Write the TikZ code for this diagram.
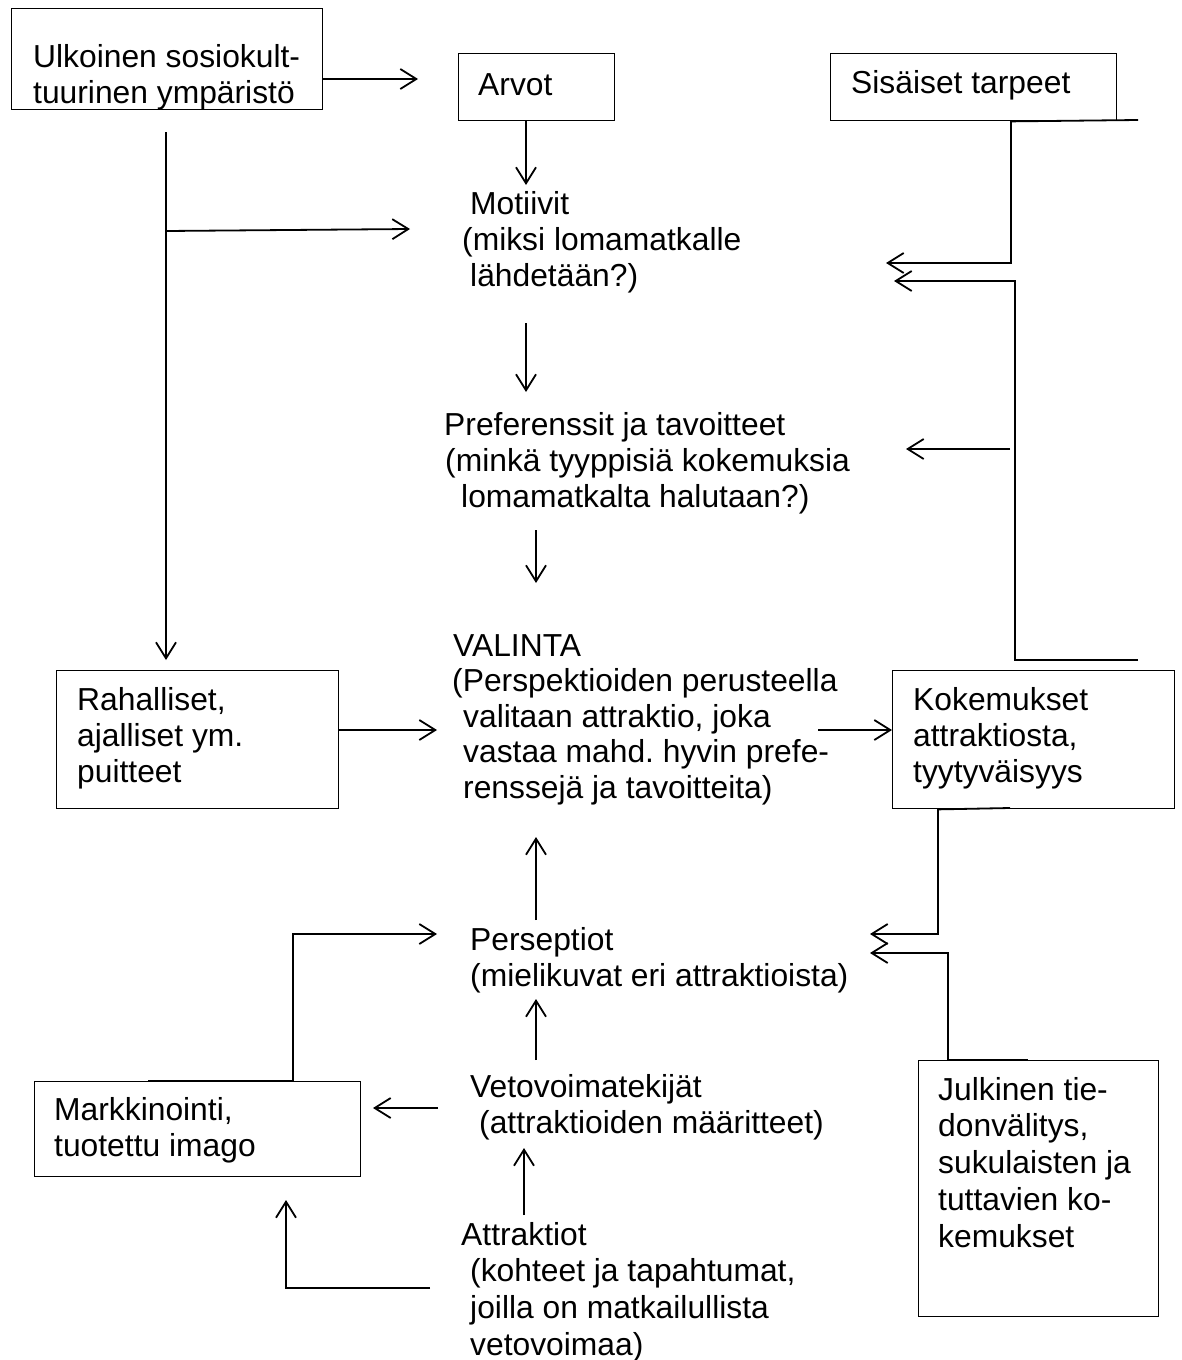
\documentclass[tikz,border=0pt]{standalone}
\usepackage{fontspec}
\setmainfont{Liberation Sans}
\usetikzlibrary{arrows.meta}
\frenchspacing
\newcommand\txtfont{\fontsize{31.8}{36.3}\selectfont}
\newcommand\valfont{\fontsize{31.8}{35.5}\selectfont}
\newcommand\julfont{\fontsize{31.8}{36.8}\selectfont}
\begin{document}
\begin{tikzpicture}[x=1pt,y=-1pt,
  box/.style={draw, line width=1.4pt, inner sep=0pt, anchor=north west},
  tx/.style={anchor=north west, inner sep=0pt, align=left, font=\txtfont},
  arr/.style={line width=1.8pt, line join=miter, -{Straight Barb[length=16pt,width=20pt]}},
  ln/.style={line width=1.8pt}]
\useasboundingbox (0,0) rectangle (1181,1360);
\fill[white] (0,0) rectangle (1181,1360);

% boxes
\node[box, minimum width=311pt, minimum height=101pt] (ulk) at (11,8) {};
\node[box, minimum width=156pt, minimum height=67pt] (arv) at (458,53) {};
\node[box, minimum width=286pt, minimum height=67pt] (sis) at (830,53) {};
\node[box, minimum width=282pt, minimum height=138pt] (rah) at (56,670) {};
\node[box, minimum width=282pt, minimum height=138pt] (kok) at (892,670) {};
\node[box, minimum width=326pt, minimum height=95pt] (mar) at (34,1081) {};
\node[box, minimum width=240pt, minimum height=256pt] (jul) at (918,1060) {};

% texts
\node[tx] (ulkT) at (33,41.6) {\strut Ulkoinen sosiokult-\\tuurinen ympäristö};
\node[tx] (arvT) at (478,69.6) {\strut Arvot};
\node[tx] (sisT) at (851,67.6) {\strut Sisäiset tarpeet};
\node[tx] (motT) at (462,188.6) {\strut\hspace*{8pt}Motiivit\\(miksi lomamatkalle\\\hspace*{8pt}lähdetään?)};
\node[tx] (prefT) at (444,409.6) {\strut Preferenssit ja tavoitteet\\\hspace*{1pt}(minkä tyyppisiä kokemuksia\\\hspace*{17pt}lomamatkalta halutaan?)};
\node[tx, font=\valfont] (valT) at (452,631.1) {\strut\hspace*{1pt}VALINTA\\(Perspektioiden perusteella\\\hspace*{11pt}valitaan attraktio, joka\\\hspace*{11pt}vastaa mahd. hyvin prefe-\\\hspace*{11pt}renssejä ja tavoitteita)};
\node[tx] (rahT) at (77,684.6) {\strut Rahalliset,\\ajalliset ym.\\puitteet};
\node[tx] (kokT) at (913,684.6) {\strut Kokemukset\\attraktiosta,\\tyytyväisyys};
\node[tx] (perT) at (470,924.6) {\strut Perseptiot\\(mielikuvat eri attraktioista)};
\node[tx] (vetT) at (470,1071.6) {\strut Vetovoimatekijät\\\hspace*{9pt}(attraktioiden määritteet)};
\node[tx] (marT) at (54,1094.6) {\strut Markkinointi,\\tuotettu imago};
\node[tx, font=\julfont] (julT) at (938,1074.2) {\strut Julkinen tie-\\donvälitys,\\sukulaisten ja\\tuttavien ko-\\kemukset};
\node[tx, font=\julfont] (attT) at (461,1219.2) {\strut Attraktiot\\\hspace*{9pt}(kohteet ja tapahtumat,\\\hspace*{9pt}joilla on matkailullista\\\hspace*{9pt}vetovoimaa)};

% coordinates
\coordinate (tArv) at (418,79);
\coordinate (cU1) at (166,132);
\coordinate (tRah) at (166,660);
\coordinate (cU2) at (166,231);
\coordinate (tMot) at (410,229);
\coordinate (tMot2) at (526,185);
\coordinate (cM) at (526,323);
\coordinate (tPref) at (526,392);
\coordinate (cP) at (536,530);
\coordinate (tVal) at (536,583);
\coordinate (tVal1) at (437,730);
\coordinate (cV) at (818,730);
\coordinate (cS1) at (1138,120);
\coordinate (cS2) at (1011,263);
\coordinate (tS) at (886,263);
\coordinate (cB1) at (1138,660);
\coordinate (cB2) at (1015,660);
\coordinate (cB3) at (1015,281);
\coordinate (tB) at (894,281);
\coordinate (cR) at (1010,449);
\coordinate (tR) at (906,449);
\coordinate (cK1) at (1010,808);
\coordinate (cK2) at (938,934);
\coordinate (tK) at (870,934);
\coordinate (cJ1) at (1028,1060);
\coordinate (cJ2) at (948,953);
\coordinate (tJ) at (870,953);
\coordinate (cPe) at (536,920);
\coordinate (tPe) at (536,837);
\coordinate (cVe) at (536,1060);
\coordinate (tVe) at (536,999);
\coordinate (cMa1) at (148,1081);
\coordinate (cMa2) at (293,934);
\coordinate (tMa) at (437,934);
\coordinate (cVm) at (438,1108);
\coordinate (tVm) at (373,1108);
\coordinate (cA1) at (430,1288);
\coordinate (cA2) at (286,1288);
\coordinate (tA) at (286,1200);
\coordinate (cAv) at (524,1215);
\coordinate (tAv) at (524,1148);

% connectors
\draw[arr] (ulk.east |- tArv) -- (tArv);
\draw[arr] (cU1) -- (tRah);
\draw[arr] (cU2) -- (tMot);
\draw[arr] (arv.south -| tMot2) -- (tMot2);
\draw[arr] (cM) -- (tPref);
\draw[arr] (cP) -- (tVal);
\draw[arr] (rah.east |- tVal1) -- (tVal1);
\draw[arr] (cV) -- (kok.west |- cV);
\draw[arr] (cS1) -- (sis.south -| cS2) -- (cS2) -- (tS);
\draw[arr] (cB1) -- (cB2) -- (cB3) -- (tB);
\draw[arr] (cR) -- (tR);
\draw[arr] (cK1) -- (kok.south -| cK2) -- (cK2) -- (tK);
\draw[arr] (cJ1) -- (jul.north -| cJ2) -- (cJ2) -- (tJ);
\draw[arr] (cPe) -- (tPe);
\draw[arr] (cVe) -- (tVe);
\draw[arr] (cMa1) -- (mar.north -| cMa2) -- (cMa2) -- (tMa);
\draw[arr] (cVm) -- (tVm);
\draw[arr] (cA1) -- (cA2) -- (tA);
\draw[arr] (cAv) -- (tAv);
\end{tikzpicture}
\end{document}
